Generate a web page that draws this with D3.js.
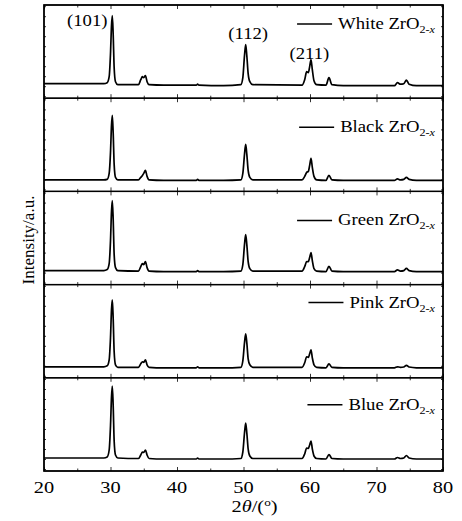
<!DOCTYPE html>
<html>
<head>
<meta charset="utf-8">
<script src="https://cdn.jsdelivr.net/npm/d3@7"></script>
<style>
  body { margin: 0; background: #fff; }
  text { font-family: "Liberation Serif", "Times New Roman", serif; fill: #000; }
</style>
</head>
<body>
<script>
// 2theta positions (deg) shared by all patterns
var twoTheta = [20, 25, 29.0, 29.5, 29.8, 30.0, 30.15, 30.27, 30.4, 30.55, 30.75, 31.1,
    34.2, 34.55, 34.8, 35.0, 35.25, 35.5, 35.8,
    38, 42.9, 43.1, 43.3, 47,
    49.6, 49.9, 50.15, 50.33, 50.5, 50.7, 50.95, 51.4,
    58.8, 59.2, 59.5, 59.75, 59.95, 60.15, 60.35, 60.6, 61.0,
    62.4, 62.85, 63.3, 65,
    72.7, 73.15, 73.6, 74.1, 74.5, 74.9, 76, 80];

// intensities (a.u.)
var whiteI = [2, 2, 2, 3, 9, 32, 60, 70, 52, 18, 4, 1,
    1, 6, 9, 8, 10, 4, 1,
    0.5, 0.5, 1.5, 0.5, 0,
    1, 8, 30, 41, 30, 12, 4, 1,
    0.5, 6, 14, 13, 19, 26, 16, 5, 1,
    0.5, 8, 1, 0,
    0, 3, 1.5, 2, 5.5, 1.5, 0, 0];
var blackI = [0.5, 0.5, 0.5, 1, 7, 28, 55, 65, 48, 16, 3, 0.5,
    0.5, 3, 5, 7, 10, 4, 0.5,
    0, 0, 1, 0, 0,
    0.5, 7, 26, 36, 26, 10, 3, 0.5,
    0.5, 4, 8, 9, 15, 22, 13, 4, 0.5,
    0, 5, 0.5, 0,
    0, 1.5, 0.5, 1, 3, 1, 0, 0];
var greenI = [1, 1, 1, 2, 8, 31, 60, 71, 53, 17, 4, 1,
    0.5, 5, 8, 7, 10, 4, 0.5,
    0, 0, 1, 0, 0,
    0.5, 7, 27, 37, 27, 10, 3, 0.5,
    0.5, 5, 10, 10, 14, 19, 11, 3, 0.5,
    0, 5.3, 0.5, 0,
    0, 1.7, 0.5, 1, 3.3, 1, 0, 0];
var pinkI = [1, 1, 1, 2, 8, 30, 58, 68, 50, 16, 3, 0.5,
    0.5, 4, 6, 5.5, 8, 3, 0.5,
    0, 0, 1, 0, 0,
    0.5, 7, 25, 34, 25, 9, 3, 0.5,
    0.5, 5, 11, 10.5, 14, 18, 10, 3, 0.5,
    0, 4, 0.5, 0,
    0, 1, 0.5, 0.8, 2.5, 0.8, 0, 0];
var blueI = [1, 1, 1, 2, 9, 33, 62, 73, 54, 18, 4, 1,
    0.5, 4, 7, 6.5, 9, 4, 0.5,
    0, 0, 1, 0, 0,
    0.5, 7, 26, 36, 26, 10, 3, 0.5,
    0.5, 5, 11, 10.5, 14, 18, 10, 3, 0.5,
    0, 4.5, 0.5, 0,
    0, 1.5, 0.5, 1, 3.5, 1, 0, 0];

var samples = ["White", "Black", "Green", "Pink", "Blue"];
var series = [whiteI, blackI, greenI, pinkI, blueI];
var background = [0.5, -1, 1, -2, 0];   // baseline offset of each pattern

var xTicks = [20, 30, 40, 50, 60, 70, 80];
var xMinor = [25, 35, 45, 55, 65, 75];

// (hkl) labels on the top pattern: [2theta, intensity]
var hklNames = ["(101)", "(112)", "(211)"];
var hklPos = [[26.5, 60], [50.7, 47], [59.9, 27]];

var W = 462, H = 521;
var margin = { top: 5, right: 19, bottom: 50, left: 44 },
    width = W - margin.left - margin.right,
    height = H - margin.top - margin.bottom;
var panelH = height / samples.length;
var legendY = [19, 29, 29, 18, 27];

var svg = d3.select("body")
    .append("svg")
    .attr("width", W)
    .attr("height", H)
    .append("g")
    .attr("transform", "translate(" + margin.left + "," + margin.top + ")");

var x = d3.scaleLinear().domain([20, 80]).range([0, width]);
var y = d3.scaleLinear().domain([-12, 81.2]).range([panelH, 0]);

var line = d3.line()
    .x(function (d) { return x(d[0]); })
    .y(function (d) { return y(d[1]); })
    .curve(d3.curveMonotoneX);

// text in the source is drawn a bit wide, so stretch it horizontally
function wideText(parent, px, py, anchor, size, sx) {
    return parent.append("g")
        .attr("transform", "translate(" + px + "," + py + ") scale(" + sx + ",1)")
        .append("text")
        .attr("text-anchor", anchor)
        .style("font-size", size + "px");
}

samples.forEach(function (name, i) {
    var g = svg.append("g")
        .attr("transform", "translate(0," + (i * panelH) + ")");

    // ticks (inward) on all four sides
    g.append("g").attr("transform", "translate(0," + panelH + ")")
        .call(d3.axisBottom(x).tickValues(xTicks).tickSize(-4).tickFormat(""));
    g.append("g").attr("transform", "translate(0," + panelH + ")")
        .call(d3.axisBottom(x).tickValues(xMinor).tickSize(-2.5).tickFormat(""));
    g.append("g")
        .call(d3.axisTop(x).tickValues(xTicks).tickSize(-4).tickFormat(""));
    g.append("g")
        .call(d3.axisTop(x).tickValues(xMinor).tickSize(-2.5).tickFormat(""));
    g.append("g")
        .call(d3.axisLeft(y).ticks(9).tickSize(-2).tickFormat(""));
    g.append("g").attr("transform", "translate(" + width + ",0)")
        .call(d3.axisRight(y).ticks(9).tickSize(-2).tickFormat(""));
    g.selectAll(".domain").remove();
    g.selectAll(".tick line").attr("stroke", "#000").attr("stroke-width", 0.8);

    g.append("rect")
        .attr("width", width)
        .attr("height", panelH)
        .attr("fill", "none")
        .attr("stroke", "#000")
        .attr("stroke-width", 1.3);

    var pts = twoTheta.map(function (t, j) { return [t, series[i][j] + background[i]]; });
    g.append("path")
        .datum(pts)
        .attr("d", line)
        .attr("fill", "none")
        .attr("stroke", "#000")
        .attr("stroke-width", 1.7)
        .attr("stroke-linejoin", "round");

    // legend
    var lsx = 1.1;
    var t = wideText(g, 391, legendY[i] + 5, "end", 17, lsx);
    t.append("tspan").text(name + " ZrO");
    var sub = t.append("tspan").attr("dy", 4).style("font-size", "11px");
    sub.append("tspan").text("2-");
    sub.append("tspan").style("font-style", "italic").text("x");
    var bb = t.node().getBBox();
    var left = 391 + bb.x * lsx;
    g.append("line")
        .attr("x1", left - 41).attr("x2", left - 6)
        .attr("y1", legendY[i]).attr("y2", legendY[i])
        .attr("stroke", "#000").attr("stroke-width", 1.5);

    if (i === 0) {
        hklNames.forEach(function (lab, k) {
            wideText(g, x(hklPos[k][0]), y(hklPos[k][1]), "middle", 17, 1.1).text(lab);
        });
    }
});

// outer frame
svg.append("rect")
    .attr("width", width).attr("height", height)
    .attr("fill", "none").attr("stroke", "#000").attr("stroke-width", 1.5);

// x tick labels
xTicks.forEach(function (v) {
    wideText(svg, x(v), height + 22, "middle", 17, 1.2).text(v);
});

// axis titles
var xt = wideText(svg, width / 2 + 11, height + 41, "middle", 17, 1.2);
xt.append("tspan").text("2");
xt.append("tspan").style("font-style", "italic").text("\u03b8");
xt.append("tspan").text("/(");
xt.append("tspan").attr("dy", -6).style("font-size", "11px").text("o");
xt.append("tspan").attr("dy", 6).text(")");

svg.append("text")
    .attr("transform", "translate(-10," + (height / 2 + 2) + ") rotate(-90)")
    .attr("text-anchor", "middle")
    .style("font-size", "17px")
    .text("Intensity/a.u.");
</script>
</body>
</html>
